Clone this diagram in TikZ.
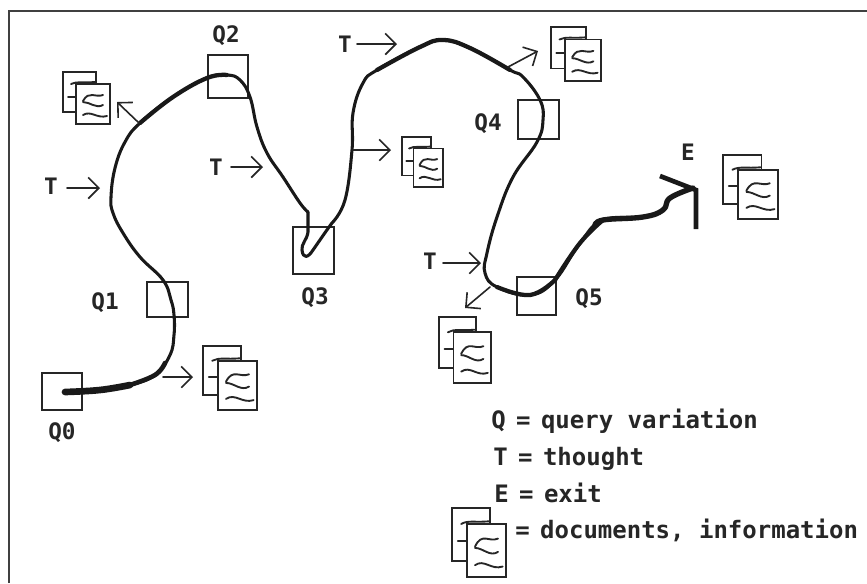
\documentclass[tikz,border=0pt]{standalone}
\usepackage{fontspec}
\setmonofont{DejaVu Sans Mono}
\usetikzlibrary{arrows.meta}
\tikzset{
  qbox/.style={draw=black!85,line width=1.3pt,inner sep=0pt},
  lbl/.style={font=\ttfamily\bfseries\fontsize{17}{20}\selectfont,inner sep=0pt,text=black!85},
  leg/.style={font=\ttfamily\bfseries\fontsize{18}{20}\selectfont,inner sep=0pt,anchor=base west,text=black!85},
  thin trail/.style={line width=2.3pt,line cap=round,line join=round,black!90},
  heavy trail/.style={line width=#1,line cap=round,line join=round,black!90},
  pt/.style={-{Straight Barb[length=8pt,width=16pt]},line width=1.2pt,line cap=round,black!85},
  docpage/.style={draw=black!85,fill=white,line width=1.3pt},
  doodle/.style={line width=1.4pt,black!85,line cap=round}
}
\newcommand\docstack[4]{%
  \begin{scope}[shift={(#1,#2)},xscale=#3,yscale=#4]
    \draw[docpage] (0,0) rectangle (33,40);
    \draw[doodle] (8,12) .. controls (14,9) and (20,11) .. (32,10);
    \draw[doodle] (5,25) -- (13,25);
    \draw[docpage] (13,12) rectangle (47,52);
    \draw[doodle] (20,29) .. controls (26,18) and (32,26) .. (40,23);
    \draw[doodle] (20,30) .. controls (27,30) and (33,37) .. (40,33);
    \draw[doodle] (20,43) .. controls (28,38) and (34,47) .. (44,44);
  \end{scope}}
\begin{document}
\begin{tikzpicture}[x=0.75pt,y=-0.75pt]
\useasboundingbox (0,0) rectangle (867,583);
\fill[white] (0,0) rectangle (867,583);
\draw[black!75,line width=1pt] (9,583) -- (9,11) -- (867,11);

\node[qbox,minimum width=30pt,minimum height=27.5pt] (q0) at (62,391.5) {};
\node[qbox,minimum width=30.5pt,minimum height=26pt] (q1) at (167.5,299.5) {};
\node[qbox,minimum width=30pt,minimum height=32pt] (q2) at (228,76.5) {};
\node[qbox,minimum width=30.5pt,minimum height=35pt] (q3) at (313.5,250.5) {};
\node[qbox,minimum width=30.5pt,minimum height=29pt] (q4) at (538.5,119.5) {};
\node[qbox,minimum width=29pt,minimum height=28.5pt] (q5) at (536.5,296) {};

\node[lbl] (l0) at (62,433) {Q0};
\node[lbl] (l1) at (105,303) {Q1};
\node[lbl] (l2) at (226,36) {Q2};
\node[lbl] (l3) at (315,298) {Q3};
\node[lbl] (l4) at (488,124) {Q4};
\node[lbl] (l5) at (589,299) {Q5};
\node[lbl] (lE) at (688,152) {E};

\node[lbl] (T1) at (51,186) {T};
\node[lbl] (T2) at (216,167) {T};
\node[lbl] (T3) at (345,44) {T};
\node[lbl] (T4) at (430,261) {T};
\coordinate (t1s) at (67,188);  \coordinate (t1e) at (100,188);
\coordinate (t2s) at (231,167); \coordinate (t2e) at (263,167);
\coordinate (t3s) at (357,44);  \coordinate (t3e) at (397,44);
\coordinate (t4s) at (443,263); \coordinate (t4e) at (481,263);
\draw[pt] (t1s) -- (t1e);
\draw[pt] (t2s) -- (t2e);
\draw[pt] (t3s) -- (t3e);
\draw[pt] (t4s) -- (t4e);

% search trail: thin base
\draw[thin trail] plot[smooth,tension=.7] coordinates {
 (65,392) (100,390) (130,385) (155,375) (170,355) (174,335) (174,315) (171,300)
 (163,280) (140,257) (123,233) (113,213) (111,197) (115,168) (125,142) (140,123)
 (173,97) (207,78) (227,75) (240,80) (250,97) (257,127) (267,153) (283,177) (300,203) (308,212)};
\draw[thin trail] (308,212) -- (308,232) .. controls (307,240) and (301,244) .. (302,250)
 .. controls (303,259) and (308,258) .. (313,250)
 .. controls (320,240) and (326,231) .. (332,223);
\draw[thin trail] plot[smooth,tension=.7] coordinates {
 (332,223) (345,200) (352,150) (353,113) (363,83) (377,70) (420,47) (443,40) (470,48)
 (510,70) (523,77) (540,100) (543,120) (537,142) (513,177) (497,217) (487,253) (485,273)
 (497,287) (530,295) (555,280) (580,243) (603,220) (643,217) (663,210) (670,198) (693,188)};
% heavier stretches
\draw[heavy trail=5pt] plot[smooth,tension=.7] coordinates {(65,392) (100,390) (130,385)};
\draw[heavy trail=3.5pt] plot[smooth,tension=.7] coordinates {(130,385) (155,375) (165,363)};
\draw[heavy trail=3.2pt] plot[smooth,tension=.7] coordinates {(140,123) (173,97) (207,78) (227,75)};
\draw[heavy trail=3.2pt] plot[smooth,tension=.7] coordinates {(377,70) (420,47) (443,40) (470,48) (510,70)};
\draw[heavy trail=3.2pt] plot[smooth,tension=.7] coordinates {(497,287) (530,295) (555,280)};
\draw[heavy trail=3.2pt] plot[smooth,tension=.7] coordinates {(555,280) (580,243) (603,220)};
\draw[heavy trail=4pt] plot[smooth,tension=.7] coordinates {(595,226) (603,220) (643,217) (663,210) (670,198) (693,188)};
\coordinate (e1) at (660,176);
\coordinate (e2) at (696,190);
\coordinate (e3) at (696,229);
\draw[line width=3.5pt,line join=miter,black!90] (e1) -- (e2) -- (e3);

% documents
\docstack{63}{72}{1}{1}
\docstack{203}{346}{1.15}{1.23}
\docstack{402}{137}{.88}{.96}
\docstack{551}{27}{1.06}{1.04}
\docstack{439}{317}{1.11}{1.27}
\docstack{723}{155}{1.17}{1.23}
\docstack{452}{508}{1.15}{1.33}

% output arrows
\coordinate (a1s) at (139,123); \coordinate (a1e) at (117,102);
\coordinate (a2s) at (163,377); \coordinate (a2e) at (193,377);
\coordinate (a3s) at (353,150); \coordinate (a3e) at (391,150);
\coordinate (a4s) at (508,67);  \coordinate (a4e) at (538,51);
\coordinate (a5s) at (490,287); \coordinate (a5e) at (465,308);
\draw[pt] (a1s) -- (a1e);
\draw[pt] (a2s) -- (a2e);
\draw[pt] (a3s) -- (a3e);
\draw[pt] (a4s) -- (a4e);
\draw[pt] (a5s) -- (a5e);

% legend
\node[leg] (k1) at (491,428) {Q\hspace{-3pt} = \hspace{-3pt}query variation};
\node[leg] (k2) at (493,465) {T\hspace{-3pt} = \hspace{-3pt}thought};
\node[leg] (k3) at (494,502) {E\hspace{-3pt} = \hspace{-3pt}exit};
\node[leg] (k4) at (515,538) {=\hspace{-3pt} documents, information};
\end{tikzpicture}
\end{document}
